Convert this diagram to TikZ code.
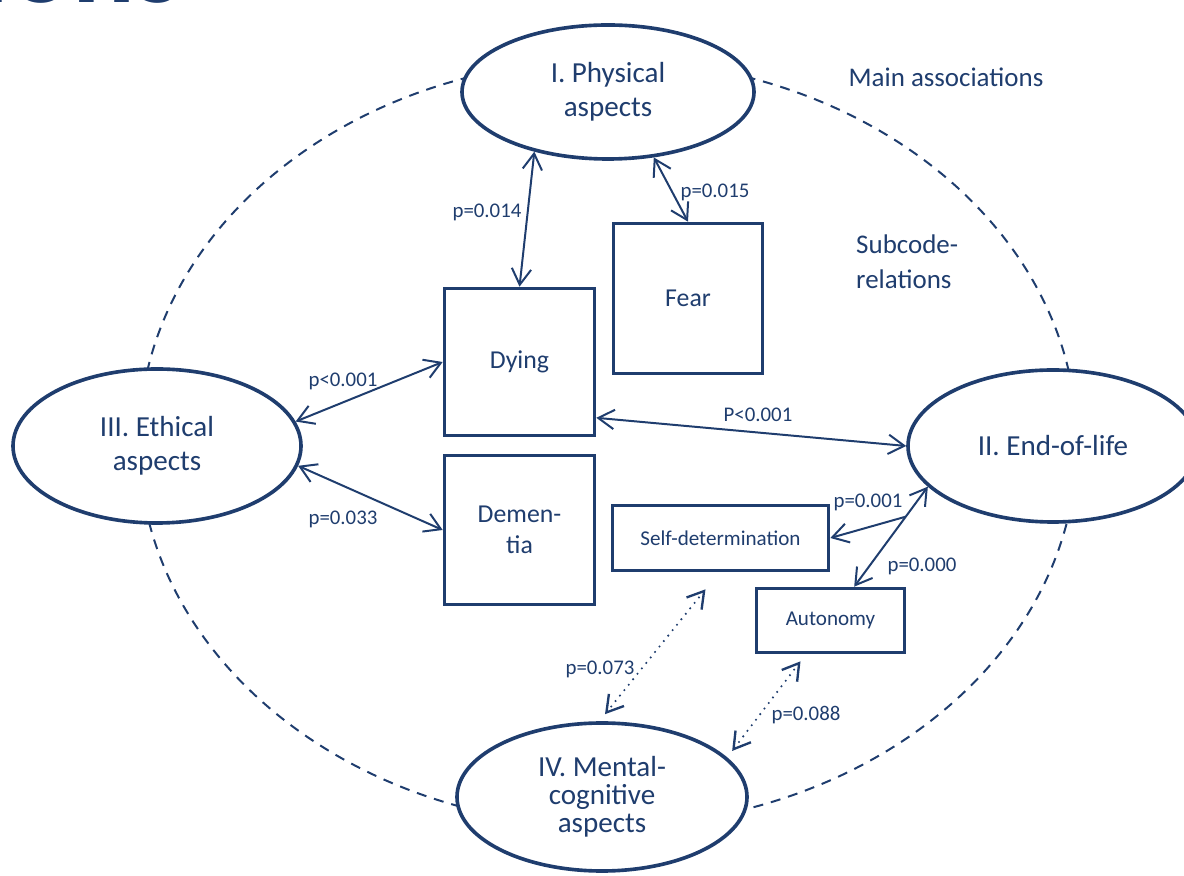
\documentclass[tikz,border=0pt]{standalone}
\usepackage{fontspec}
\setmainfont{Carlito}
\usetikzlibrary{shapes.geometric,arrows.meta,calc}
\definecolor{navy}{HTML}{1F3D6E}
\newlength{\unitpx}
\setlength{\unitpx}{0.3mm}

\begin{document}
\begin{tikzpicture}[x=0.3mm, y=0.3mm, navy, text=navy,
	aspect/.style={ellipse, draw, line width=3.1pt, fill=white, align=center, inner sep=0pt, font=\fontsize{24.8}{29}\selectfont},
	code/.style={rectangle, draw, line width=3.1pt, fill=white, align=center, font=\fontsize{22}{26.5}\selectfont},
	subcode/.style={code, font=\fontsize{18}{22}\selectfont},
	rel/.style={<->, >={Straight Barb[length=4.8mm,width=5.8mm]}, line width=1.7pt},
	weak/.style={rel, line width=2pt, line cap=round, dash pattern=on 0pt off 7\unitpx},
	plabel/.style={inner sep=0pt, font=\fontsize{17.8}{21}\selectfont},
	note/.style={inner sep=0pt, align=left, font=\fontsize{23}{30}\selectfont}]
					\useasboundingbox (0,0) rectangle (1184,875);
					\node[anchor=base east, inner sep=0pt, font=\fontsize{100}{100}\bfseries\selectfont] (title) at (182,872) {ions};
					
					\draw[line width=1.7pt, dash pattern=on 10\unitpx off 8\unitpx] (608,432) ellipse [x radius=469, y radius=383];
					
					\node[aspect, minimum width=292\unitpx, minimum height=134\unitpx] (phys) at (608,783) {I. Physical\\aspects};
					\node[aspect, minimum width=290\unitpx, minimum height=152\unitpx] (eol) at (1053,429) {II. End-of-life};
					\node[aspect, minimum width=288\unitpx, minimum height=154\unitpx] (ethic) at (157,429) {III. Ethical\\aspects};
					\node[aspect, minimum width=290\unitpx, minimum height=148\unitpx, font=\fontsize{24.8}{24}\selectfont] (mental) at (602,78) {IV. Mental-\\cognitive\\aspects};
					
					\node[code, minimum width=150\unitpx, minimum height=147\unitpx] (dying) at (519.5,513) {Dying};
					\node[code, minimum width=149\unitpx, minimum height=150\unitpx] (fear) at (688,576.5) {Fear};
					\node[code, minimum width=150\unitpx, minimum height=149\unitpx] (dementia) at (519.5,345) {Demen-\\tia};
					\node[subcode, minimum width=216\unitpx, minimum height=65\unitpx] (selfdet) at (720.5,337) {Self-determination};
					\node[subcode, minimum width=148\unitpx, minimum height=64\unitpx] (autonomy) at (830.5,254.5) {Autonomy};
					
					\node[note] (mainassoc) at (946,798) {Main associations};
					\node[note, anchor=west] (subrel) at (856,613) {Subcode-\\relations};
					
					\draw[rel] (dying.north) -- (phys.219);
					\draw[rel] (fear.north) -- (phys.305);
					\draw[rel] (dying.west) -- (ethic.10);
					\draw[rel] (dementia.west) -- (ethic.-8);
					\draw[rel] (dying.-36) -- (eol.west);
					\draw[rel] (autonomy.55) -- (eol.198);
					\coordinate (branch) at ($(eol.198)!0.3!(autonomy.55)$);
					\draw[rel, <-] (selfdet.east) -- (branch);
					\draw[weak] ([shift={(-15,-17)}]selfdet.south) -- ([shift={(3,7)}]mental.north);
					\draw[weak] ([shift={(-30,-7)}]autonomy.south) -- ([shift={(8,4)}]mental.19);
					
					\node[plabel] (p014) at (487,663) {p=0.014};
					\node[plabel] (p015) at (715,683) {p=0.015};
					\node[plabel] (p001a) at (343,494) {p<0.001};
					\node[plabel] (p033) at (343,356) {p=0.033};
					\node[plabel] (p001b) at (758,460) {P<0.001};
					\node[plabel] (p001c) at (868,373) {p=0.001};
					\node[plabel] (p000) at (922,309) {p=0.000};
					\node[plabel] (p073) at (600,206) {p=0.073};
					\node[plabel] (p088) at (806,160) {p=0.088};
\end{tikzpicture}
\end{document}
